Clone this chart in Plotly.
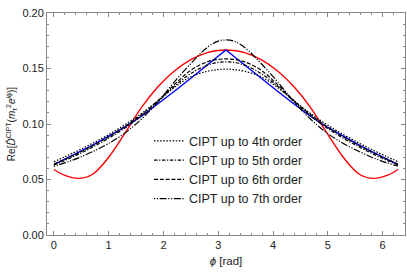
import plotly.graph_objects as go

phi = [0.0, 0.2, 0.45, 0.7, 1.0, 1.3, 1.6, 1.9, 2.2, 2.5, 2.8, 3.0, 3.1416,
       3.2832, 3.4832, 3.7832, 4.0832, 4.3832, 4.6832, 4.9832, 5.2832, 5.5832, 5.8332, 6.0832, 6.2832]

red = [0.0590, 0.0537, 0.0510, 0.0545, 0.0700, 0.0920, 0.1150, 0.1335, 0.1478, 0.1580, 0.1643, 0.1662, 0.1667,
       0.1662, 0.1643, 0.1580, 0.1478, 0.1335, 0.1150, 0.0920, 0.0700, 0.0545, 0.0510, 0.0537, 0.0590]

blue = [0.0635, 0.0683, 0.0745, 0.0808, 0.0890, 0.0975, 0.1070, 0.1180, 0.1295, 0.1412, 0.1530, 0.1610, 0.1667,
        0.1610, 0.1530, 0.1412, 0.1295, 0.1180, 0.1070, 0.0975, 0.0890, 0.0808, 0.0745, 0.0683, 0.0635]

cipt4 = [0.0660, 0.0705, 0.0763, 0.0825, 0.0905, 0.0995, 0.1095, 0.1210, 0.1330, 0.1425, 0.1475, 0.1490, 0.1495,
         0.1490, 0.1475, 0.1425, 0.1330, 0.1210, 0.1095, 0.0995, 0.0905, 0.0825, 0.0763, 0.0705, 0.0660]

cipt5 = [0.0630, 0.0672, 0.0728, 0.0790, 0.0872, 0.0965, 0.1075, 0.1200, 0.1340, 0.1455, 0.1530, 0.1555, 0.1560,
         0.1555, 0.1530, 0.1455, 0.1340, 0.1200, 0.1075, 0.0965, 0.0872, 0.0790, 0.0728, 0.0672, 0.0630]

cipt6 = [0.0640, 0.0683, 0.0740, 0.0803, 0.0885, 0.0978, 0.1085, 0.1210, 0.1355, 0.1485, 0.1560, 0.1582, 0.1586,
         0.1582, 0.1560, 0.1485, 0.1355, 0.1210, 0.1085, 0.0978, 0.0885, 0.0803, 0.0740, 0.0683, 0.0640]

cipt7 = [0.0620, 0.0650, 0.0695, 0.0750, 0.0825, 0.0920, 0.1045, 0.1200, 0.1380, 0.1545, 0.1690, 0.1747, 0.1757,
         0.1747, 0.1690, 0.1545, 0.1380, 0.1200, 0.1045, 0.0920, 0.0825, 0.0750, 0.0695, 0.0650, 0.0620]

labels = ["CIPT up to 4th order", "CIPT up to 5th order",
          "CIPT up to 6th order", "CIPT up to 7th order"]

xticks = [0, 1, 2, 3, 4, 5, 6]
yticks = [0.00, 0.05, 0.10, 0.15, 0.20]

FONT = "Liberation Sans, Arial, sans-serif"

fig = go.Figure()
fig.add_trace(go.Scatter(x=phi, y=red, mode="lines", showlegend=False,
                         line=dict(color="#ff0000", width=1.4, shape="spline", smoothing=1.0)))
fig.add_trace(go.Scatter(x=phi, y=blue, mode="lines", showlegend=False,
                         line=dict(color="#0000ff", width=1.4)))
dashes = ["1.5px,1.6px", "3.5px,1.6px,1.2px,1.6px", "4px,1.8px", "1.2px,1.6px,1.2px,1.6px,7px,1.6px"]
for vals, lab, d in zip([cipt4, cipt5, cipt6, cipt7], labels, dashes):
    fig.add_trace(go.Scatter(x=phi, y=vals, mode="lines", name=lab,
                             line=dict(color="black", width=1.2, dash=d, shape="spline", smoothing=1.0)))

axis_common = dict(
    showline=True, linecolor="#888888", linewidth=1, mirror="ticks",
    ticks="inside", ticklen=4, tickcolor="#888888", tickwidth=1,
    showgrid=False, zeroline=False, automargin=False,
    tickfont=dict(family=FONT, size=11, color="#222222"),
)

fig.update_xaxes(**axis_common, range=[-0.126, 6.41], tickvals=xticks,
                 ticktext=[str(t) for t in xticks],
                 minor=dict(ticks="inside", ticklen=2, tickcolor="#888888", dtick=0.2, showgrid=False),
                 title=dict(text="<i>ϕ</i> [rad]", font=dict(family=FONT, size=11.5, color="#222222"), standoff=6))
fig.update_yaxes(**axis_common, range=[0, 0.2], tickvals=yticks,
                 ticktext=[f"{t:.2f}" for t in yticks],
                 minor=dict(ticks="inside", ticklen=2, tickcolor="#888888", dtick=0.01, showgrid=False),
                 title=dict(text="Re[<i>D̂</i><sup>CIPT</sup>(<i>m</i><sub>τ</sub><sup>2</sup><i>e</i><sup><i>i</i>ϕ</sup>)]",
                            font=dict(family=FONT, size=10, color="#222222"), standoff=4))

fig.update_layout(
    width=407, height=277,
    margin=dict(l=47, r=2, t=13, b=42),
    paper_bgcolor="white", plot_bgcolor="white",
    font=dict(family=FONT, size=11, color="#222222"),
    legend=dict(x=0.285, y=0.49, xanchor="left", yanchor="top",
                bgcolor="rgba(0,0,0,0)", font=dict(family=FONT, size=12.5, color="#222222"),
                tracegroupgap=0, itemwidth=30),
)

fig.write_html("out.html", config={"displayModeBar": False},
               post_script="document.body.style.margin='0px';document.body.style.overflow='hidden';")
